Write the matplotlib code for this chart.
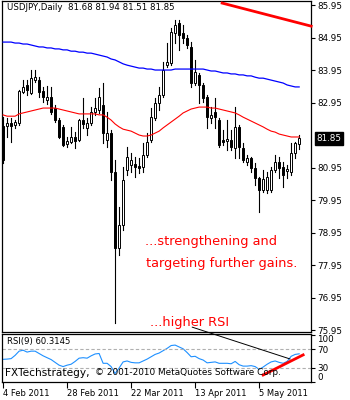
import matplotlib
matplotlib.use("Agg")
import matplotlib.pyplot as plt
from matplotlib.patches import Rectangle, ConnectionPatch

plt.rcParams['font.family'] = ['DejaVu Sans']

# daily bars, 4 Feb 2011 .. 19 May 2011
opens = [82.23, 82.23, 82.32, 82.26, 82.32, 83.27, 83.49, 83.24, 83.64, 83.64,
         83.30, 83.03, 83.12, 82.78, 82.41, 82.20, 81.67, 81.73, 81.89, 81.80,
         82.41, 82.17, 82.32, 82.66, 82.72, 82.87, 81.80, 82.01, 80.81, 78.47,
         79.18, 80.87, 81.03, 81.06, 81.00, 80.97, 81.33, 81.80, 82.47, 82.93,
         83.18, 84.10, 84.17, 85.09, 85.40, 85.09, 84.93, 84.66, 83.55, 83.80,
         83.49, 83.12, 82.47, 82.66, 82.41, 81.80, 81.77, 81.80, 81.55, 82.20,
         81.55, 81.12, 81.24, 80.94, 80.63, 80.26, 80.26, 80.26, 80.87, 81.12,
         80.97, 80.84, 80.81, 81.40, 81.68]
highs = [82.50, 82.47, 82.47, 82.41, 83.34, 83.64, 83.64, 83.95, 83.95, 83.73,
         83.43, 83.46, 83.43, 82.87, 82.47, 82.26, 81.89, 82.20, 82.04, 82.44,
         83.09, 82.47, 82.81, 83.09, 83.40, 83.55, 82.66, 82.10, 81.18, 79.74,
         80.97, 81.58, 81.40, 81.27, 81.24, 81.70, 82.01, 82.78, 83.09, 83.43,
         84.20, 84.78, 85.24, 85.49, 85.49, 85.34, 85.03, 84.81, 84.26, 83.86,
         83.55, 83.18, 82.81, 83.09, 82.47, 82.10, 82.41, 82.10, 82.81, 82.26,
         81.70, 81.33, 81.27, 81.09, 80.66, 80.87, 80.81, 80.97, 81.33, 81.27,
         81.12, 81.03, 81.70, 81.73, 81.94]
lows = [81.09, 81.89, 81.73, 82.17, 82.26, 83.24, 83.18, 83.21, 83.58, 83.12,
        82.97, 82.90, 82.60, 82.35, 81.86, 81.61, 81.58, 81.70, 81.55, 81.77,
        82.17, 81.95, 82.26, 82.57, 82.63, 81.70, 81.58, 80.57, 76.17, 78.26,
        79.03, 80.72, 80.81, 80.66, 80.78, 80.81, 81.27, 81.73, 82.41, 82.72,
        83.12, 84.04, 84.10, 84.78, 84.57, 84.78, 84.63, 83.43, 83.49, 82.93,
        82.97, 82.17, 82.32, 82.17, 81.58, 81.64, 81.49, 81.49, 81.24, 81.24,
        81.12, 81.03, 80.81, 80.41, 79.58, 80.20, 80.17, 80.20, 80.81, 80.63,
        80.35, 80.63, 80.72, 81.24, 81.51]
closes = [81.18, 82.32, 82.23, 82.35, 83.30, 83.43, 83.34, 83.70, 83.73, 83.27,
          83.12, 83.12, 82.66, 82.41, 81.89, 81.64, 81.77, 81.89, 81.77, 82.41,
          82.29, 82.32, 82.66, 82.78, 83.12, 82.01, 82.01, 80.81, 78.47, 79.18,
          80.57, 81.27, 81.18, 80.97, 80.94, 81.33, 81.73, 82.50, 82.93, 83.18,
          83.95, 84.20, 85.12, 85.34, 85.03, 84.93, 84.72, 83.55, 83.89, 83.49,
          83.09, 82.50, 82.57, 82.50, 81.64, 81.73, 81.83, 81.58, 82.20, 81.58,
          81.18, 81.24, 80.94, 80.63, 80.26, 80.60, 80.66, 80.87, 81.12, 80.94,
          80.72, 80.90, 81.40, 81.70, 81.85]

ma_red = [82.57, 82.53, 82.53, 82.53, 82.60, 82.63, 82.66, 82.69, 82.72, 82.75,
          82.78, 82.78, 82.78, 82.78, 82.75, 82.72, 82.69, 82.66, 82.63, 82.60,
          82.60, 82.60, 82.60, 82.60, 82.57, 82.57, 82.50, 82.41, 82.29, 82.20,
          82.13, 82.10, 82.07, 82.01, 81.95, 81.92, 81.92, 81.95, 82.01, 82.07,
          82.17, 82.26, 82.35, 82.44, 82.53, 82.63, 82.69, 82.75, 82.78, 82.81,
          82.81, 82.81, 82.78, 82.78, 82.75, 82.72, 82.69, 82.66, 82.63, 82.57,
          82.50, 82.44, 82.38, 82.32, 82.26, 82.20, 82.13, 82.07, 82.04, 81.98,
          81.95, 81.92, 81.89, 81.89, 81.89]
ma_blue = [84.81, 84.81, 84.81, 84.78, 84.78, 84.75, 84.75, 84.72, 84.69, 84.66,
           84.66, 84.63, 84.63, 84.60, 84.60, 84.57, 84.57, 84.53, 84.53, 84.50,
           84.50, 84.47, 84.47, 84.44, 84.41, 84.38, 84.35, 84.29, 84.26, 84.20,
           84.14, 84.10, 84.07, 84.04, 84.01, 84.01, 83.98, 83.98, 83.95, 83.95,
           83.95, 83.95, 83.95, 83.98, 83.98, 83.98, 83.98, 83.98, 83.98, 83.98,
           83.98, 83.95, 83.92, 83.92, 83.89, 83.86, 83.86, 83.83, 83.83, 83.80,
           83.80, 83.77, 83.77, 83.73, 83.70, 83.70, 83.67, 83.64, 83.61, 83.58,
           83.55, 83.49, 83.46, 83.43, 83.43]
rsi = [48.5, 49, 50, 57, 66, 68, 64, 66, 66, 61,
       56, 52, 48, 42, 36, 33, 36, 38, 44, 51,
       52, 51, 56, 60, 61, 40, 40, 33, 18, 30,
       43, 45, 42, 41, 41, 45, 49, 54, 59, 62,
       67, 72, 78, 79, 75, 71, 63, 54, 55, 50,
       47, 41, 42, 43, 40, 40, 40, 39, 44, 37,
       34, 34, 35, 33, 27, 32, 38, 43, 45, 42,
       40, 44, 55, 59, 60.3145]

date_ticks = [0, 16, 32, 48, 64]
date_labels = ["4 Feb 2011", "28 Feb 2011", "22 Mar 2011", "13 Apr 2011", "5 May 2011"]
price_ticks = [75.95, 76.95, 77.95, 78.95, 79.95, 80.95, 82.95, 83.95, 84.95, 85.95]
last_price = 81.85

# hand-drawn lines on the chart (bar index, value)
trend_price = [(54.75, 86.01), (77.0, 85.30)]
trend_rsi = [(65, 15), (75, 58)]
pointer = [(47.25, 76.04), (71.75, 49.2)]

fig = plt.figure(figsize=(3.5, 4.0), dpi=100)
ax = fig.add_axes([0.006, 0.17, 0.883, 0.828])
rax = fig.add_axes([0.006, 0.045, 0.883, 0.12], sharex=ax)

# candles
w = 0.6
for i, (o, h, l, c) in enumerate(zip(opens, highs, lows, closes)):
    ax.plot([i, i], [l, h], color="black", lw=0.8, zorder=2)
    lo, hgt = min(o, c), abs(c - o)
    if hgt < 0.02:
        ax.plot([i - w / 2, i + w / 2], [c, c], color="black", lw=0.9, zorder=3)
    else:
        face = "white" if c >= o else "black"
        ax.add_patch(Rectangle((i - w / 2, lo), w, hgt, facecolor=face,
                               edgecolor="black", lw=0.7, zorder=3))

x = list(range(len(closes)))
ax.plot(x, ma_red, color="red", lw=0.8, zorder=4)
ax.plot(x, ma_blue, color="#0000ff", lw=0.9, zorder=4)
ax.plot([p[0] for p in trend_price], [p[1] for p in trend_price], color="red", lw=2.0,
        clip_on=False, zorder=5)

ax.set_xlim(-0.25, 77.0)
ax.set_ylim(75.89, 86.08)
ax.yaxis.tick_right()
ax.set_yticks(price_ticks)
ax.set_yticklabels([f"{t:.2f}" for t in price_ticks])
ax.tick_params(axis="y", length=3, width=0.8, pad=1.5, labelsize=6.3, colors="black")
ax.tick_params(axis="x", bottom=False, labelbottom=False)
for s in ax.spines.values():
    s.set_linewidth(0.9)

ax.annotate(f"{last_price:.2f}", xy=(1.0, last_price), xycoords=("axes fraction", "data"),
            xytext=(4, 0), textcoords="offset points", va="center", ha="left",
            fontsize=6.3, color="white", annotation_clip=False,
            bbox=dict(boxstyle="square,pad=0.2", fc="black", ec="black"))

ax.text(0.016, 0.993, "USDJPY,Daily  81.68 81.94 81.51 81.85", transform=ax.transAxes,
        va="top", ha="left", fontsize=6.2)
ax.text(0.463, 0.272, "...strengthening and", transform=ax.transAxes, color="red",
        va="center", ha="left", fontsize=9.3)
ax.text(0.466, 0.208, "targeting further gains.", transform=ax.transAxes, color="red",
        va="center", ha="left", fontsize=9.3)
ax.text(0.479, 0.030, "...higher RSI", transform=ax.transAxes, color="red",
        va="center", ha="left", fontsize=9.3)

# RSI panel
rax.plot(x, rsi, color="#1e90ff", lw=0.8)
rax.axhline(70, color="#b0b0b0", lw=0.8, ls=(0, (3, 2)))
rax.axhline(30, color="#b0b0b0", lw=0.8, ls=(0, (3, 2)))
rax.plot([p[0] for p in trend_rsi], [p[1] for p in trend_rsi], color="red", lw=2.0)
rax.set_ylim(0, 102.7)
rax.yaxis.tick_right()
rax.set_yticks([0, 30, 70, 100])
rax.set_yticklabels(["0", "30", "70", "100"])
rax.tick_params(axis="y", length=3, width=0.8, pad=1.5, labelsize=6.3)
ylabs = rax.get_yticklabels()
ylabs[0].set_va("bottom")
ylabs[3].set_va("top")
rax.set_xticks(date_ticks)
rax.set_xticklabels(date_labels, ha="left")
rax.tick_params(axis="x", length=4, width=0.8, pad=1, labelsize=6)
for s in rax.spines.values():
    s.set_linewidth(0.9)

rax.text(0.016, 0.85, "RSI(9) 60.3145", transform=rax.transAxes, va="center",
         ha="left", fontsize=6.1)
rax.text(0.01, 0.19, "FXTechstrategy,", transform=rax.transAxes, va="center",
         ha="left", fontsize=7.6)
rax.text(0.301, 0.19, "\u00a9 2001-2010 MetaQuotes Software Corp.", transform=rax.transAxes,
         va="center", ha="left", fontsize=6.4)

con = ConnectionPatch(xyA=pointer[0], coordsA="data", axesA=ax,
                      xyB=pointer[1], coordsB="data", axesB=rax,
                      color="black", lw=0.7)
fig.add_artist(con)

fig.savefig("out.png", dpi=100)
plt.close(fig)
